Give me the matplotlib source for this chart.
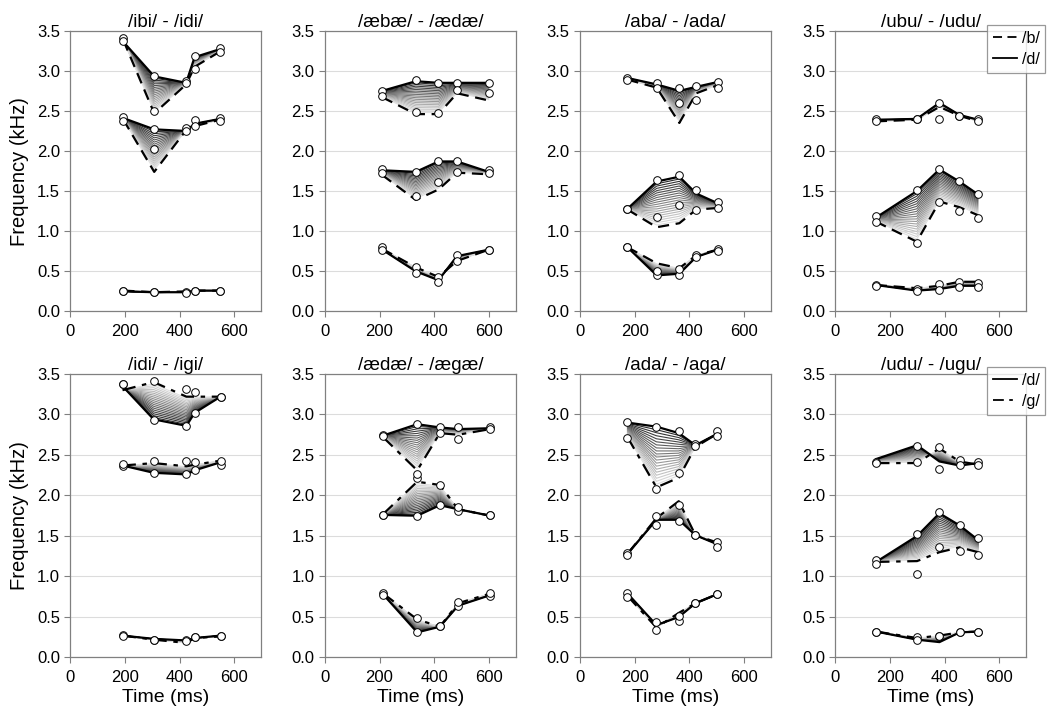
import matplotlib
matplotlib.use("Agg")
import matplotlib.pyplot as plt
from matplotlib.lines import Line2D
from matplotlib.ticker import FormatStrFormatter

plt.rcParams["font.family"] = ["Liberation Sans", "DejaVu Sans"]

titles = ["/ibi/ - /idi/", "/æbæ/ - /ædæ/", "/aba/ - /ada/", "/ubu/ - /udu/",
          "/idi/ - /igi/", "/ædæ/ - /ægæ/", "/ada/ - /aga/", "/udu/ - /ugu/"]

# measurement times (ms), one list per panel
times = [
    [194, 307, 424, 455, 548],
    [210, 333, 416, 484, 600],
    [174, 281, 364, 426, 504],
    [148, 298, 381, 454, 522],
    [191, 305, 425, 455, 550],
    [213, 338, 421, 488, 606],
    [174, 280, 362, 423, 502],
    [149, 299, 381, 455, 523],
]

# continuum endpoint drawn solid (/d/), per panel: F1, F2, F3 in kHz
solid_tracks = [
    [[0.25, 0.24, 0.24, 0.26, 0.26], [2.41, 2.27, 2.25, 2.34, 2.40], [3.36, 2.93, 2.85, 3.17, 3.27]],
    [[0.77, 0.50, 0.39, 0.69, 0.77], [1.76, 1.74, 1.87, 1.87, 1.74], [2.75, 2.87, 2.85, 2.85, 2.85]],
    [[0.80, 0.45, 0.47, 0.68, 0.77], [1.28, 1.62, 1.68, 1.47, 1.35], [2.91, 2.83, 2.75, 2.80, 2.86]],
    [[0.33, 0.26, 0.28, 0.32, 0.32], [1.17, 1.50, 1.77, 1.62, 1.46], [2.39, 2.40, 2.60, 2.45, 2.39]],
    [[0.27, 0.23, 0.21, 0.24, 0.27], [2.37, 2.28, 2.26, 2.31, 2.41], [3.35, 2.94, 2.86, 3.02, 3.22]],
    [[0.78, 0.31, 0.38, 0.64, 0.77], [1.76, 1.75, 1.88, 1.83, 1.75], [2.74, 2.88, 2.84, 2.82, 2.83]],
    [[0.79, 0.40, 0.50, 0.67, 0.78], [1.28, 1.70, 1.70, 1.51, 1.40], [2.90, 2.85, 2.77, 2.62, 2.76]],
    [[0.32, 0.22, 0.19, 0.31, 0.32], [1.18, 1.50, 1.78, 1.63, 1.45], [2.45, 2.62, 2.42, 2.37, 2.40]],
]

# continuum endpoint drawn broken (/b/ top row, /g/ bottom row)
broken_tracks = [
    [[0.26, 0.24, 0.25, 0.26, 0.26], [2.39, 1.74, 2.26, 2.31, 2.39], [3.38, 2.47, 2.83, 3.05, 3.24]],
    [[0.78, 0.55, 0.43, 0.63, 0.77], [1.70, 1.39, 1.52, 1.73, 1.71], [2.67, 2.46, 2.46, 2.72, 2.63]],
    [[0.80, 0.60, 0.54, 0.70, 0.77], [1.27, 1.05, 1.10, 1.27, 1.29], [2.89, 2.79, 2.35, 2.72, 2.82]],
    [[0.33, 0.29, 0.32, 0.37, 0.37], [1.12, 0.87, 1.37, 1.30, 1.20], [2.37, 2.39, 2.55, 2.44, 2.37]],
    [[0.27, 0.22, 0.18, 0.24, 0.26], [2.37, 2.40, 2.36, 2.38, 2.43], [3.30, 3.40, 3.22, 3.22, 3.22]],
    [[0.79, 0.47, 0.38, 0.67, 0.79], [1.77, 2.17, 2.13, 1.83, 1.75], [2.72, 2.31, 2.77, 2.75, 2.82]],
    [[0.76, 0.37, 0.55, 0.67, 0.78], [1.28, 1.72, 1.93, 1.51, 1.42], [2.72, 2.10, 2.22, 2.60, 2.76]],
    [[0.32, 0.24, 0.27, 0.31, 0.32], [1.18, 1.19, 1.30, 1.36, 1.30], [2.40, 2.40, 2.58, 2.42, 2.38]],
]

# natural token measurements (circles)
solid_marks = [
    [[0.26, 0.24, 0.24, 0.26, 0.26], [2.42, 2.27, 2.29, 2.39, 2.41], [3.41, 2.93, 2.87, 3.18, 3.29]],
    [[0.80, 0.55, 0.43, 0.71, 0.77], [1.78, 1.74, 1.87, 1.87, 1.76], [2.75, 2.88, 2.85, 2.85, 2.85]],
    [[0.80, 0.45, 0.46, 0.71, 0.78], [1.28, 1.64, 1.70, 1.52, 1.37], [2.91, 2.85, 2.78, 2.81, 2.86]],
    [[0.33, 0.28, 0.34, 0.37, 0.36], [1.19, 1.51, 1.78, 1.63, 1.47], [2.40, 2.40, 2.60, 2.44, 2.40]],
    [[0.28, 0.22, 0.22, 0.25, 0.27], [2.37, 2.28, 2.27, 2.31, 2.38], [3.38, 2.93, 2.86, 3.02, 3.22]],
    [[0.80, 0.31, 0.39, 0.63, 0.76], [1.76, 1.75, 1.88, 1.81, 1.76], [2.75, 2.88, 2.85, 2.85, 2.84]],
    [[0.80, 0.44, 0.45, 0.67, 0.78], [1.29, 1.75, 1.68, 1.51, 1.43], [2.91, 2.85, 2.79, 2.64, 2.79]],
    [[0.32, 0.25, 0.27, 0.31, 0.32], [1.20, 1.52, 1.79, 1.64, 1.47], [2.41, 2.61, 2.60, 2.44, 2.41]],
]

broken_marks = [
    [[0.25, 0.24, 0.23, 0.26, 0.26], [2.38, 2.02, 2.25, 2.31, 2.38], [3.37, 2.50, 2.85, 3.02, 3.23]],
    [[0.76, 0.48, 0.37, 0.63, 0.77], [1.72, 1.44, 1.62, 1.74, 1.72], [2.69, 2.49, 2.48, 2.76, 2.72]],
    [[0.80, 0.50, 0.53, 0.68, 0.75], [1.28, 1.18, 1.33, 1.26, 1.29], [2.89, 2.78, 2.60, 2.64, 2.79]],
    [[0.32, 0.25, 0.27, 0.31, 0.31], [1.12, 0.85, 1.36, 1.25, 1.16], [2.38, 2.40, 2.40, 2.44, 2.37]],
    [[0.27, 0.22, 0.20, 0.25, 0.27], [2.39, 2.43, 2.42, 2.41, 2.43], [3.38, 3.41, 3.32, 3.28, 3.21]],
    [[0.77, 0.49, 0.39, 0.68, 0.80], [1.76, 2.21, 2.13, 1.86, 1.76], [2.73, 2.27, 2.77, 2.70, 2.82]],
    [[0.75, 0.34, 0.51, 0.67, 0.78], [1.27, 1.63, 1.88, 1.51, 1.37], [2.71, 2.08, 2.28, 2.61, 2.73]],
    [[0.32, 0.21, 0.27, 0.31, 0.31], [1.16, 1.03, 1.36, 1.32, 1.26], [2.40, 2.41, 2.33, 2.38, 2.38]],
]

# continuum step positions between the two endpoints
steps = [0.05, 0.10, 0.15, 0.20, 0.25, 0.30, 0.35, 0.40, 0.45, 0.50,
         0.55, 0.60, 0.65, 0.70, 0.75, 0.80, 0.85, 0.90, 0.95]

broken_names = ["/b/", "/g/"]
solid_name = "/d/"

grey = "#808080"
dash_style = [(0, (5, 3)), (0, (6, 3, 2, 3))]

fig = plt.figure(figsize=(10.5, 7.17), dpi=100)
lefts = [0.0671, 0.3095, 0.5524, 0.7957]
bottoms = [0.5656, 0.0830]
heights = [0.3916, 0.3954]

for i in range(8):
    row, col = divmod(i, 4)
    ax = fig.add_axes([lefts[col], bottoms[row], 0.1819, heights[row]])
    t = times[i]
    for f in range(3):
        s = solid_tracks[i][f]
        b = broken_tracks[i][f]
        for w in steps:
            mix = [(1 - w) * sv + w * bv for sv, bv in zip(s, b)]
            g = 0.12 + 0.8 * w
            ax.plot(t, mix, color=(g, g, g), lw=0.8, zorder=2)
        ax.plot(t, b, color="black", lw=1.6, linestyle=dash_style[row], zorder=3)
        ax.plot(t, s, color="black", lw=1.6, zorder=3)
        for m in (solid_marks[i][f], broken_marks[i][f]):
            ax.plot(t, m, "o", mfc="white", mec="black", ms=5.5, mew=0.7, zorder=4)

    ax.set_xlim(0, 700)
    ax.set_ylim(0, 3.5)
    ax.set_xticks([0, 200, 400, 600])
    ax.set_yticks([0, 0.5, 1.0, 1.5, 2.0, 2.5, 3.0, 3.5])
    ax.yaxis.set_major_formatter(FormatStrFormatter("%.1f"))
    ax.grid(axis="y", color="#dcdcdc", lw=0.8)
    ax.set_axisbelow(True)
    for sp in ax.spines.values():
        sp.set_color(grey)
        sp.set_linewidth(0.9)
    ax.tick_params(direction="out", length=4, color=grey, labelsize=12)
    ax.tick_params(axis="x", pad=5)
    ax.set_title(titles[i], fontsize=13.5, pad=3)
    if col == 0:
        ax.set_ylabel("Frequency (kHz)", fontsize=14.5, labelpad=6)
    if row == 1:
        ax.set_xlabel("Time (ms)", fontsize=14, labelpad=3)

    if col == 3:
        solid_h = Line2D([], [], color="black", lw=1.3)
        broken_h = Line2D([], [], color="black", lw=1.3, linestyle=dash_style[row])
        if row == 0:
            handles, labels = [broken_h, solid_h], [broken_names[0], solid_name]
            anchor = (1045 / 1050, 1 - 25 / 717)
        else:
            handles, labels = [solid_h, broken_h], [solid_name, broken_names[1]]
            anchor = (1045 / 1050, 1 - 367 / 717)
        leg = fig.legend(handles, labels, loc="upper right", bbox_to_anchor=anchor,
                         fontsize=11.5, frameon=True, fancybox=False, handlelength=1.5,
                         handletextpad=0.3, borderpad=0.35, labelspacing=0.4,
                         borderaxespad=0)
        leg.get_frame().set_edgecolor(grey)
        leg.get_frame().set_linewidth(0.9)

fig.savefig("out.png", dpi=100)
